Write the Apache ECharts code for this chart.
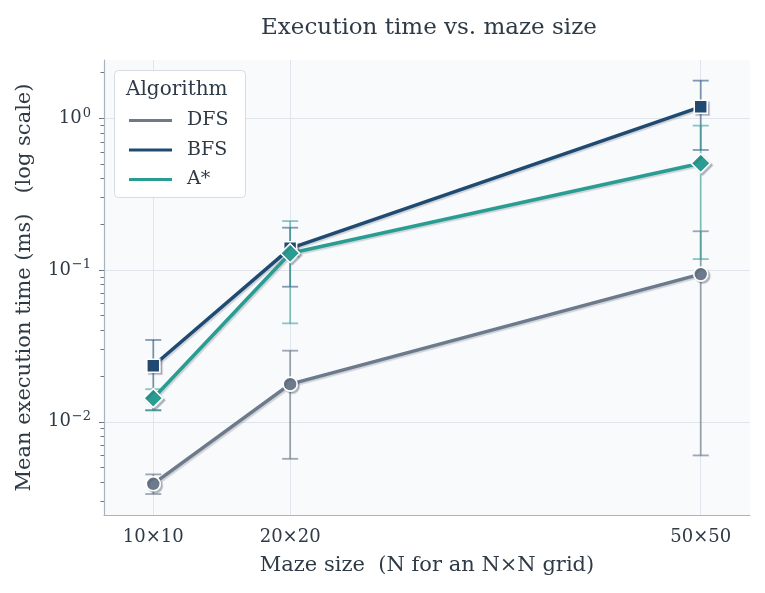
<!DOCTYPE html>
<html>
<head>
<meta charset="utf-8">
<script src="https://cdn.jsdelivr.net/npm/echarts@6/dist/echarts.min.js"></script>
<style>
  html, body { margin: 0; padding: 0; background: #ffffff; }
  #main { width: 765px; height: 593px; }
</style>
</head>
<body>
<div id="main"></div>
<script>
// maze sizes (N for an NxN grid)
var sizes = [10, 20, 50];
var sizeLabels = ['10×10', '20×20', '50×50'];

// mean execution time (ms) and error bar ends
var dfsMean = [0.0039, 0.0177, 0.094];
var dfsLow  = [0.00334, 0.0057, 0.0060];
var dfsHigh = [0.0045, 0.0294, 0.18];

var bfsMean = [0.0234, 0.139, 1.19];
var bfsLow  = [0.0119, 0.0776, 0.618];
var bfsHigh = [0.0346, 0.19, 1.77];

var astarMean = [0.0143, 0.129, 0.505];
var astarLow  = [0.0119, 0.0445, 0.118];
var astarHigh = [0.0164, 0.210, 0.894];

var majorTicks = [0.01, 0.1, 1];
var minorTicks = [0.003, 0.004, 0.005, 0.006, 0.007, 0.008, 0.009,
                  0.02, 0.03, 0.04, 0.05, 0.06, 0.07, 0.08, 0.09,
                  0.2, 0.3, 0.4, 0.5, 0.6, 0.7, 0.8, 0.9, 2];

var FONT = 'DejaVu Serif';
var TEXT = '#2e3a46';

var algos = [
  { name: 'DFS', color: '#6c7a8c', err: 'rgba(108,122,140,0.65)', symbol: 'circle', size: 14, mean: dfsMean, low: dfsLow, high: dfsHigh },
  { name: 'BFS', color: '#1f4a72', err: 'rgba(31,74,114,0.55)', symbol: 'rect', size: 13, mean: bfsMean, low: bfsLow, high: bfsHigh },
  { name: 'A*', color: '#2a9d92', err: 'rgba(42,157,146,0.55)', symbol: 'diamond', size: 19, mean: astarMean, low: astarLow, high: astarHigh }
];

function pairs(xs, ys) {
  return xs.map(function (x, i) { return [x, ys[i]]; });
}

function errorBarItem(color) {
  return function (params, api) {
    var x = api.value(0);
    var lo = api.coord([x, api.value(1)]);
    var hi = api.coord([x, api.value(2)]);
    var half = 8;
    var style = { stroke: color, lineWidth: 1.8, fill: null };
    return {
      type: 'group',
      children: [
        { type: 'line', shape: { x1: lo[0], y1: lo[1], x2: hi[0], y2: hi[1] }, style: style },
        { type: 'line', shape: { x1: lo[0] - half, y1: lo[1], x2: lo[0] + half, y2: lo[1] }, style: style },
        { type: 'line', shape: { x1: hi[0] - half, y1: hi[1], x2: hi[0] + half, y2: hi[1] }, style: style }
      ]
    };
  };
}

var series = [];
algos.forEach(function (a) {
  series.push({
    name: a.name + ' error',
    type: 'custom',
    z: 2,
    silent: true,
    renderItem: errorBarItem(a.err),
    encode: { x: 0, y: [1, 2] },
    data: sizes.map(function (x, i) { return [x, a.low[i], a.high[i]]; })
  });
});
algos.forEach(function (a) {
  series.push({
    name: a.name,
    type: 'line',
    z: 3,
    data: pairs(sizes, a.mean),
    symbol: a.symbol,
    symbolSize: a.size,
    showAllSymbol: true,
    color: a.color,
    lineStyle: {
      width: 3.5, color: a.color,
      shadowColor: 'rgba(60,70,85,0.22)', shadowBlur: 1, shadowOffsetX: 1.5, shadowOffsetY: 1.5
    },
    itemStyle: {
      color: a.color, borderColor: '#ffffff', borderWidth: 1.6,
      shadowColor: 'rgba(60,70,85,0.3)', shadowBlur: 1, shadowOffsetX: 2, shadowOffsetY: 2
    },
    emphasis: { disabled: true }
  });
});

var chart = echarts.init(document.getElementById('main'));
chart.setOption({
  animation: false,
  backgroundColor: '#ffffff',
  textStyle: { fontFamily: FONT },
  title: {
    text: 'Execution time vs. maze size',
    left: 424, top: 12, textAlign: 'center',
    textStyle: { fontFamily: FONT, fontSize: 23, fontWeight: 'normal', color: TEXT }
  },
  grid: {
    left: 104, top: 60, right: 15, bottom: 78,
    show: true, backgroundColor: '#f8fafc', borderWidth: 0
  },
  legend: {
    data: algos.map(function (a) { return a.name; }),
    orient: 'vertical',
    left: 127, top: 111,
    padding: 0,
    z: 6,
    icon: 'roundRect',
    itemWidth: 45, itemHeight: 5, itemGap: 10.5,
    lineStyle: { width: 4.5, cap: 'round' },
    textStyle: { fontFamily: FONT, fontSize: 19, color: TEXT, padding: [0, 0, 0, 9] },
    selectedMode: false
  },
  graphic: [
    {
      type: 'rect', z: 5, left: 114, top: 70,
      shape: { width: 131, height: 127, r: 4 },
      style: { fill: '#ffffff', stroke: '#d6dce3', lineWidth: 1 }
    },
    {
      type: 'text', z: 6, left: 126, top: 80,
      style: { text: 'Algorithm', fontFamily: FONT, fontSize: 20, fill: TEXT }
    }
  ],
  xAxis: {
    type: 'value',
    min: 6.4, max: 53.6,
    name: 'Maze size  (N for an N×N grid)',
    nameLocation: 'middle', nameGap: 40,
    nameTextStyle: { fontFamily: FONT, fontSize: 21, color: TEXT },
    axisLine: { lineStyle: { color: '#a9b4c0', width: 1.2 } },
    axisTick: { show: false, customValues: sizes },
    splitLine: { show: true, lineStyle: { color: '#dfe5eb', width: 1 } },
    axisLabel: {
      customValues: sizes, margin: 13,
      fontFamily: FONT, fontSize: 18, color: TEXT,
      formatter: function (v) { return sizeLabels[sizes.indexOf(v)]; }
    }
  },
  yAxis: [
    {
      type: 'log', logBase: 10,
      min: 0.00243, max: 2.42,
      name: 'Mean execution time (ms)   (log scale)',
      nameLocation: 'middle', nameGap: 69,
      nameTextStyle: { fontFamily: FONT, fontSize: 21, color: TEXT },
      axisLine: { show: true, lineStyle: { color: '#a9b4c0', width: 1.2 } },
      axisTick: { show: true, customValues: majorTicks, length: 5, lineStyle: { color: '#6b7785', width: 1 } },
      splitLine: { show: true, lineStyle: { color: '#dfe5eb', width: 1 } },
      axisLabel: {
        customValues: majorTicks, margin: 13,
        fontFamily: FONT, fontSize: 18, color: TEXT,
        formatter: function (v) {
          var e = Math.round(Math.log10(v));
          return '10{s|' + (e < 0 ? '−' + (-e) : e) + '}';
        },
        rich: {
          s: { fontFamily: FONT, fontSize: 13, color: TEXT, verticalAlign: 'bottom', padding: [0, 0, 10, 1] }
        }
      }
    },
    {
      type: 'log', logBase: 10,
      min: 0.00243, max: 2.42,
      position: 'left',
      axisLine: { show: false },
      axisTick: { show: true, customValues: minorTicks, length: 3.5, lineStyle: { color: '#6b7785', width: 1 } },
      splitLine: { show: false },
      axisLabel: { show: false }
    }
  ],
  series: series
});
</script>
</body>
</html>
